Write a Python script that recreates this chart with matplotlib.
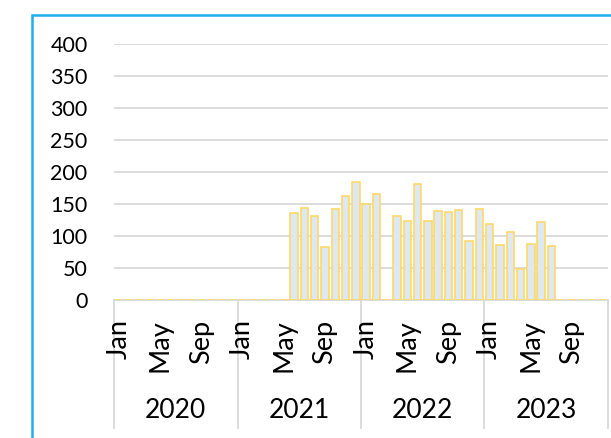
import numpy as np
import matplotlib.pyplot as plt
from matplotlib.patches import Rectangle
import matplotlib.transforms as mtransforms

# monthly values, Jan 2020 .. Dec 2023 (0 = no data)
years = ["2020", "2021", "2022", "2023"]
month_labels = ["Jan", "May", "Sep"]
values_2020 = [0] * 12
values_2021 = [0, 0, 0, 0, 0, 136, 143, 132, 83, 142, 163, 184]
values_2022 = [150, 166, 0, 131, 124, 182, 123, 139, 137, 140, 92, 142]
values_2023 = [118, 86, 107, 49, 87, 122, 85, 0, 0, 0, 0, 0]

values = np.array(values_2020 + values_2021 + values_2022 + values_2023, dtype=float)
x = np.arange(len(values))

plt.rcParams["font.family"] = ["Lato", "DejaVu Sans"]

fig = plt.figure(figsize=(6.11, 4.38), dpi=100)
W, H = 611, 438
ax = fig.add_axes([114 / W, 1 - 300 / H, (608 - 114) / W, (300 - 44) / H])

# outer blue frame (cut off at right/bottom like the screenshot)
fig.patches.append(Rectangle((32 / W, -0.05), 1.0, 1 - 15 / H + 0.05,
                             transform=fig.transFigure, fill=False,
                             edgecolor="#1EAEEB", linewidth=1.8))

ax.bar(x, values, width=0.72, color="#DEE8F2", edgecolor="#FFD966", linewidth=1.2, zorder=3)

ax.set_xlim(-0.5, len(values) - 0.5)
ax.set_ylim(0, 400)
ax.set_yticks(np.arange(0, 401, 50))
ax.yaxis.grid(True, color="#D9D9D9", linewidth=1.3, zorder=0)
ax.tick_params(axis="y", length=0, pad=19, labelsize=15.5)

for s in ["top", "right", "left"]:
    ax.spines[s].set_visible(False)
ax.spines["bottom"].set_color("#D9D9D9")
ax.spines["bottom"].set_linewidth(1.3)

# month ticks
tick_pos = [i * 12 + m for i in range(len(years)) for m in (0, 4, 8)]
tick_lab = month_labels * len(years)
ax.set_xticks(tick_pos)
ax.set_xticklabels(tick_lab, rotation=90)
ax.tick_params(axis="x", length=0, pad=14, labelsize=19.5)

# year labels and separators
trans = mtransforms.blended_transform_factory(ax.transData, ax.transAxes)
for i, yr in enumerate(years):
    ax.text(i * 12 + 5.5, -0.43, yr, transform=trans, ha="center", va="center",
            fontsize=19)
for b in range(len(years) + 1):
    ax.plot([b * 12 - 0.5] * 2, [0, -0.5], transform=trans, color="#D9D9D9",
            linewidth=1.3, clip_on=False, zorder=1)

fig.savefig("out.png", dpi=100)
